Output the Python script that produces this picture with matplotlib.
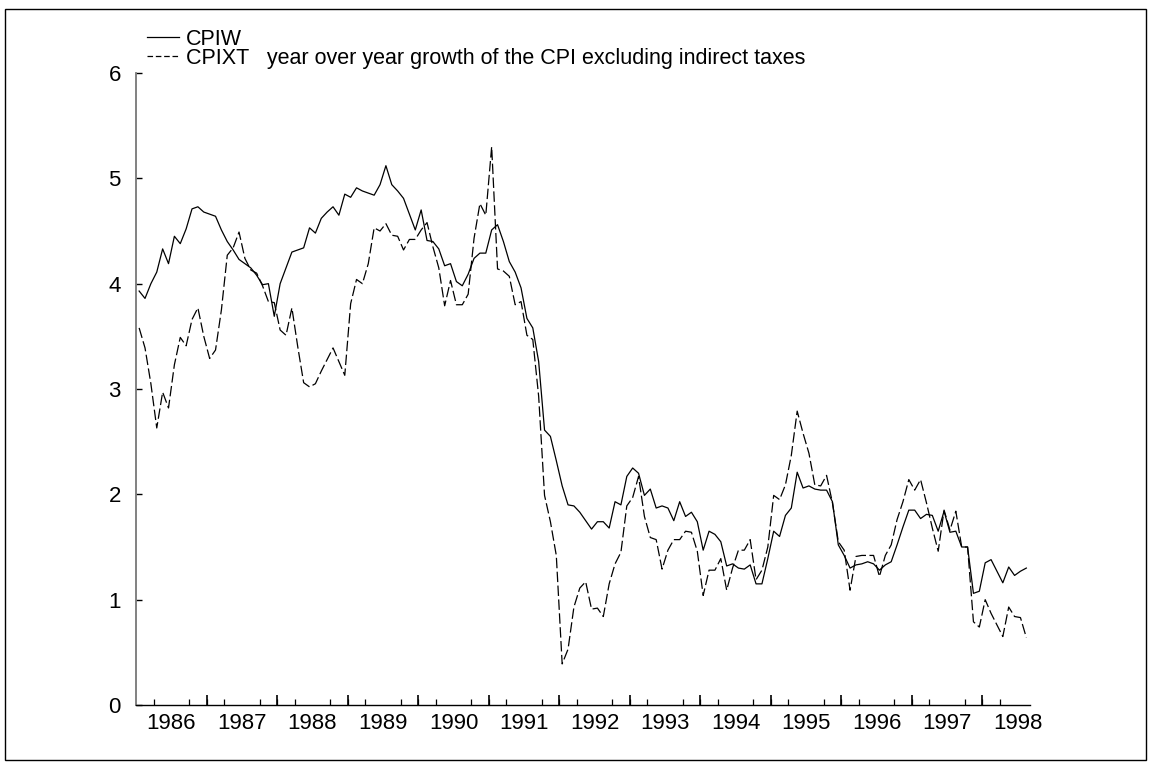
import matplotlib
matplotlib.use("Agg")
import matplotlib.pyplot as plt
from matplotlib.lines import Line2D
from matplotlib.patches import Rectangle
import numpy as np

plt.rcParams['font.family'] = ['Liberation Sans', 'DejaVu Sans']
plt.rcParams['lines.scale_dashes'] = False

# Monthly observations, Jan 1986 .. Aug 1998
start_year = 1986
cpiw = [3.93, 3.86, 4.00, 4.11, 4.33, 4.19, 4.45, 4.38, 4.52, 4.71,
        4.73, 4.68, 4.66, 4.64, 4.51, 4.40, 4.32, 4.23, 4.19, 4.15,
        4.08, 3.99, 4.00, 3.69, 4.00, 4.15, 4.30, 4.32, 4.34, 4.53,
        4.48, 4.62, 4.68, 4.73, 4.65, 4.85, 4.82, 4.91, 4.88, 4.86,
        4.84, 4.94, 5.12, 4.94, 4.88, 4.81, 4.66, 4.51, 4.70, 4.41,
        4.40, 4.33, 4.17, 4.19, 4.02, 3.98, 4.09, 4.24, 4.29, 4.29,
        4.51, 4.56, 4.40, 4.21, 4.11, 3.96, 3.67, 3.58, 3.26, 2.61,
        2.55, 2.32, 2.08, 1.90, 1.89, 1.83, 1.75, 1.67, 1.74, 1.74,
        1.68, 1.93, 1.90, 2.17, 2.25, 2.20, 1.99, 2.05, 1.87, 1.89,
        1.87, 1.75, 1.93, 1.79, 1.83, 1.74, 1.47, 1.65, 1.62, 1.55,
        1.32, 1.34, 1.30, 1.29, 1.33, 1.15, 1.15, 1.39, 1.65, 1.60,
        1.80, 1.87, 2.21, 2.06, 2.08, 2.05, 2.04, 2.04, 1.93, 1.52,
        1.42, 1.30, 1.33, 1.34, 1.36, 1.34, 1.28, 1.33, 1.36, 1.52,
        1.69, 1.85, 1.85, 1.77, 1.81, 1.80, 1.65, 1.84, 1.64, 1.65,
        1.50, 1.50, 1.06, 1.08, 1.35, 1.38, 1.27, 1.16, 1.31, 1.23,
        1.27, 1.30]
cpixt = [3.58, 3.39, 3.05, 2.63, 2.97, 2.82, 3.23, 3.49, 3.41, 3.66,
         3.77, 3.50, 3.29, 3.37, 3.75, 4.27, 4.34, 4.49, 4.24, 4.13,
         4.10, 3.98, 3.83, 3.82, 3.56, 3.51, 3.77, 3.40, 3.06, 3.02,
         3.05, 3.17, 3.28, 3.39, 3.26, 3.13, 3.81, 4.04, 4.00, 4.19,
         4.53, 4.50, 4.57, 4.46, 4.45, 4.32, 4.42, 4.42, 4.51, 4.58,
         4.35, 4.15, 3.79, 4.03, 3.80, 3.80, 3.90, 4.43, 4.76, 4.65,
         5.30, 4.14, 4.12, 4.07, 3.80, 3.83, 3.51, 3.47, 2.93, 1.99,
         1.74, 1.42, 0.39, 0.53, 0.93, 1.11, 1.17, 0.91, 0.92, 0.84,
         1.15, 1.34, 1.45, 1.89, 1.97, 2.17, 1.79, 1.59, 1.57, 1.29,
         1.47, 1.57, 1.57, 1.65, 1.64, 1.46, 1.04, 1.28, 1.28, 1.39,
         1.09, 1.30, 1.47, 1.47, 1.57, 1.19, 1.28, 1.50, 1.99, 1.95,
         2.09, 2.37, 2.79, 2.58, 2.39, 2.09, 2.08, 2.18, 1.92, 1.55,
         1.47, 1.09, 1.41, 1.42, 1.42, 1.42, 1.22, 1.42, 1.52, 1.76,
         1.93, 2.14, 2.04, 2.14, 1.92, 1.68, 1.46, 1.85, 1.66, 1.84,
         1.50, 1.50, 0.79, 0.74, 1.00, 0.87, 0.76, 0.65, 0.93, 0.84,
         0.83, 0.64]
year_labels = [str(y) for y in range(1986, 1999)]
y_ticks = [0, 1, 2, 3, 4, 5, 6]
legend_labels = ["CPIW", "CPIXT   year over year growth of the CPI excluding indirect taxes"]

t = start_year + (np.arange(len(cpiw)) + 0.5) / 12.0

W, H = 1154, 767
fig = plt.figure(figsize=(W / 100, H / 100), dpi=100)
ax_left, ax_right, ax_bottom, ax_top = 136.2, 1029.5, 705, 73
ax = fig.add_axes([ax_left / W, (H - ax_bottom) / H,
                   (ax_right - ax_left) / W, (ax_bottom - ax_top) / H])

ax.plot(t, cpiw, color='black', lw=0.9, linestyle='-')
ax.plot(t, cpixt, color='black', lw=0.9, linestyle=(0, (7.5, 2.5)))

ax.set_xlim(1986.0, 1998.67)
ax.set_ylim(0, 6)

ax.spines['top'].set_visible(False)
ax.spines['right'].set_visible(False)
ax.spines['left'].set_color('#777777')
ax.spines['left'].set_linewidth(1.3)
ax.spines['bottom'].set_color('black')
ax.spines['bottom'].set_linewidth(1.0)

ax.set_yticks(y_ticks)
ax.set_yticklabels([str(v) for v in y_ticks], fontsize=16)
ax.tick_params(axis='y', direction='in', length=4, width=1, pad=11, colors='black')

mid_years = [int(s) + 0.5 for s in year_labels]
ax.set_xticks(mid_years)
ax.set_xticklabels(year_labels, fontsize=16)
ax.tick_params(axis='x', which='major', length=0, pad=6)
quarters = np.arange(1986.25, 1998.67, 0.25)
ax.set_xticks(quarters, minor=True)
ax.tick_params(axis='x', which='minor', direction='in', length=4, width=0.9)

sec = ax.secondary_xaxis('bottom')
sec.set_xticks([int(s) for s in year_labels[1:]])
sec.set_xticklabels([])
sec.tick_params(direction='in', length=7, width=1.2)
sec.spines['bottom'].set_visible(False)

handles = [Line2D([], [], color='black', lw=0.9, linestyle='-'),
           Line2D([], [], color='black', lw=0.9, linestyle=(0, (4, 2)))]
fig.legend(handles, legend_labels, loc='upper left',
           bbox_to_anchor=(147 / W, 1 - 29 / H), frameon=False,
           fontsize=15.5, handlelength=1.5, handletextpad=0.3,
           labelspacing=-0.1, borderaxespad=0, borderpad=0)

fig.patches.append(Rectangle((5 / W, 1 - 760 / H), 1141 / W, 751 / H,
                             transform=fig.transFigure, fill=False,
                             edgecolor='black', lw=1.0))

fig.savefig('out.png', dpi=100)
